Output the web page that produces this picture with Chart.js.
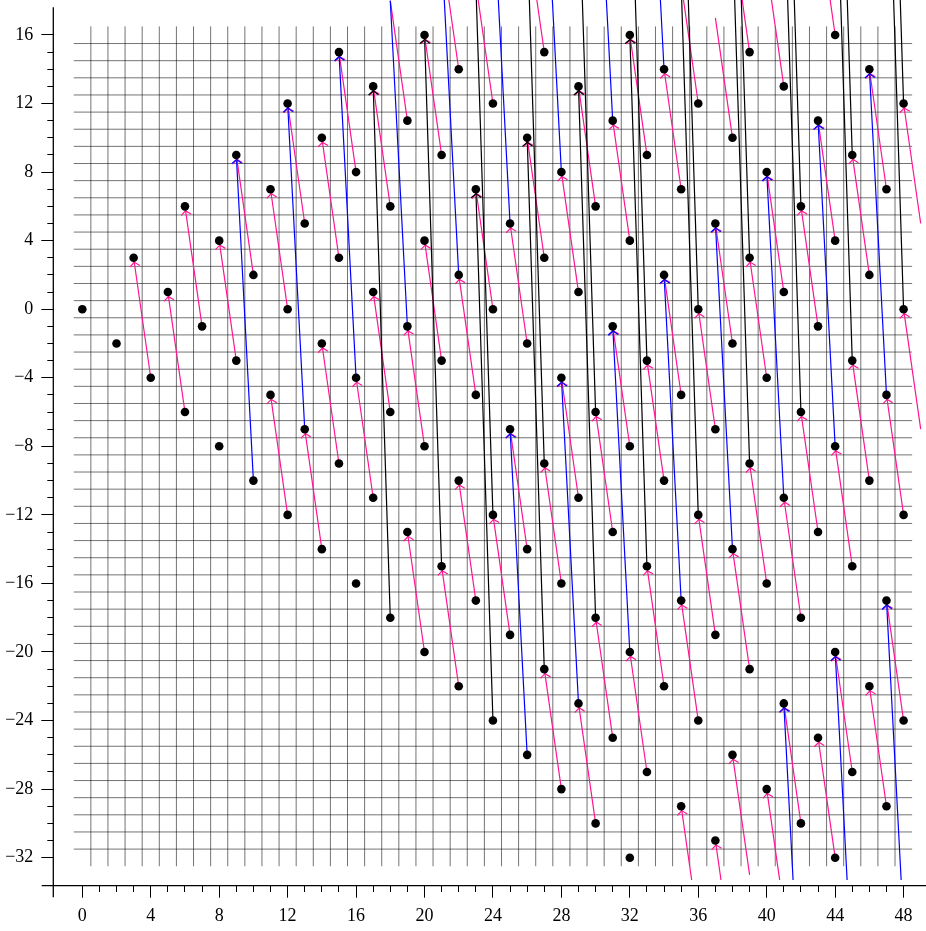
<!DOCTYPE html>
<html>
<head>
<meta charset="utf-8">
<script src="https://cdn.jsdelivr.net/npm/chart.js@4/dist/chart.umd.min.js"></script>
<style>
  html, body { margin: 0; padding: 0; background: #fff; }
  canvas { display: block; }
</style>
</head>
<body>
<canvas id="chart" width="926" height="931"></canvas>
<script>
// tick positions and labels
const xMajorTicks = [0, 4, 8, 12, 16, 20, 24, 28, 32, 36, 40, 44, 48];
const xTickLabels = ['0', '4', '8', '12', '16', '20', '24', '28', '32', '36', '40', '44', '48'];
const yMajorTicks = [16, 12, 8, 4, 0, -4, -8, -12, -16, -20, -24, -28, -32];
const yTickLabels = ['16', '12', '8', '4', '0', '−4', '−8', '−12', '−16', '−20', '−24', '−28', '−32'];

// dots, one column per x value
const dotColumnX = [0, 2, 3, 4, 5, 6, 7, 8, 9, 10, 11, 12, 13, 14, 15, 16, 17, 18, 19, 20, 21, 22, 23, 24,
  25, 26, 27, 28, 29, 30, 31, 32, 33, 34, 35, 36, 37, 38, 39, 40, 41, 42, 43, 44, 45, 46, 47, 48];
const dotColumnY = [
  [0], [-2], [3], [-4], [1], [6, -6], [-1], [4, -8], [9, -3], [2, -10], [7, -5], [12, 0, -12],
  [5, -7], [10, -2, -14], [15, 3, -9], [8, -4, -16], [13, 1, -11], [6, -6, -18], [11, -1, -13],
  [16, 4, -8, -20], [9, -3, -15], [14, 2, -10, -22], [7, -5, -17], [12, 0, -12, -24],
  [5, -7, -19], [10, -2, -14, -26], [15, 3, -9, -21], [8, -4, -16, -28], [13, 1, -11, -23],
  [6, -6, -18, -30], [11, -1, -13, -25], [16, 4, -8, -20, -32], [9, -3, -15, -27],
  [14, 2, -10, -22], [7, -5, -17, -29], [12, 0, -12, -24], [5, -7, -19, -31],
  [10, -2, -14, -26], [15, 3, -9, -21], [8, -4, -16, -28], [13, 1, -11, -23],
  [6, -6, -18, -30], [11, -1, -13, -25], [16, 4, -8, -20, -32], [9, -3, -15, -27],
  [14, 2, -10, -22], [7, -5, -17, -29], [12, 0, -12, -24]
];

// links [x0, y0, x1, y1], drawn from (x0,y0) with the arrow at (x1,y1)
const pinkLinks = [
  [4, -4, 3, 3], [6, -6, 5, 1], [7, -1, 6, 6], [9, -3, 8, 4], [10, 2, 9, 9],
  [12, 0, 11, 7], [12, -12, 11, -5], [13, 5, 12, 12], [14, -14, 13, -7],
  [15, 3, 14, 10], [15, -9, 14, -2], [16, 8, 15, 15], [17, -11, 16, -4],
  [18, 6, 17, 13], [18, -6, 17, 1], [19, 11, 18, 18], [20, -8, 19, -1], [20, -20, 19, -13],
  [21, 9, 20, 16], [21, -3, 20, 4], [22, 14, 21, 21], [22, -22, 21, -15],
  [23, -5, 22, 2], [23, -17, 22, -10], [24, 12, 23, 19], [24, 0, 23, 7],
  [25, -19, 24, -12], [26, -2, 25, 5], [26, -14, 25, -7], [27, 15, 26, 22], [27, 3, 26, 10],
  [28, -16, 27, -9], [28, -28, 27, -21], [29, 1, 28, 8], [29, -11, 28, -4],
  [30, 6, 29, 13], [30, -30, 29, -23], [31, -13, 30, -6], [31, -25, 30, -18],
  [32, 4, 31, 11], [32, -8, 31, -1], [33, 9, 32, 16], [33, -27, 32, -20],
  [34, -10, 33, -3], [34, -22, 33, -15], [35, 7, 34, 14], [35, -5, 34, 2],
  [36, 12, 35, 19], [36, -24, 35, -17], [36, -36, 35, -29], [37, -7, 36, 0], [37, -19, 36, -12],
  [38, 10, 37, 17], [38, -2, 37, 5], [38, -38, 37, -31],
  [39, 15, 38, 22], [39, -21, 38, -14], [39, -33, 38, -26], [40, -4, 39, 3], [40, -16, 39, -9],
  [41, 13, 40, 20], [41, 1, 40, 8], [41, -35, 40, -28], [42, -18, 41, -11], [42, -30, 41, -23],
  [43, -1, 42, 6], [43, -13, 42, -6], [44, 16, 43, 23], [44, 4, 43, 11], [44, -32, 43, -25],
  [45, -15, 44, -8], [45, -27, 44, -20], [46, 2, 45, 9], [46, -10, 45, -3],
  [47, 7, 46, 14], [47, -29, 46, -22], [48, -12, 47, -5], [48, -24, 47, -17],
  [49, 5, 48, 12], [49, -7, 48, 0]
];
const blueLinks = [
  [10, -10, 9, 9], [13, -7, 12, 12], [16, -4, 15, 15], [19, -1, 18, 18], [22, 2, 21, 21],
  [25, 5, 24, 24], [26, -26, 25, -7], [28, 8, 27, 27], [29, -23, 28, -4], [31, 11, 30, 30],
  [32, -20, 31, -1], [34, 14, 33, 33], [35, -17, 34, 2], [38, -14, 37, 5], [41, -11, 40, 8],
  [42, -42, 41, -23], [44, -8, 43, 11], [45, -39, 44, -20], [47, -5, 46, 14], [48, -36, 47, -17]
];
const blackLinks = [
  [18, -18, 17, 13], [21, -15, 20, 16], [24, -12, 23, 19], [24, -24, 23, 7],
  [27, -9, 26, 22], [27, -21, 26, 10], [30, -6, 29, 25], [30, -18, 29, 13],
  [33, -3, 32, 28], [33, -15, 32, 16], [36, 0, 35, 31], [36, -12, 35, 19],
  [39, 3, 38, 34], [39, -9, 38, 22], [42, 6, 41, 37], [42, -6, 41, 25],
  [45, 9, 44, 40], [45, -3, 44, 28], [48, 12, 47, 43], [48, 0, 47, 31]
];

const pinkColor = '#ff1493';
const blueColor = '#0000ff';
const blackColor = '#000000';
const labelFont = { family: "'Liberation Serif', 'Times New Roman', serif", size: 18 };

const dots = [];
dotColumnX.forEach((x, i) => dotColumnY[i].forEach(y => dots.push({x: x, y: y})));

// each link becomes two points and a gap
function linkPoints(links) {
  const pts = [];
  links.forEach(([x0, y0, x1, y1]) => {
    pts.push({x: x0, y: y0}, {x: x1, y: y1}, {x: NaN, y: NaN});
  });
  return pts;
}

const lineClip = {left: false, top: 0, right: 0, bottom: -5.7};

function lineDataset(label, links, color) {
  return {
    label: label,
    data: linkPoints(links),
    showLine: true,
    spanGaps: false,
    borderColor: color,
    borderWidth: 1.2,
    pointRadius: 0,
    pointHoverRadius: 0,
    clip: lineClip,
  };
}

// half step grid between the dots
const gridPlugin = {
  id: 'halfGrid',
  beforeDatasetsDraw(chart) {
    const {ctx, scales: {x, y}} = chart;
    ctx.save();
    ctx.strokeStyle = 'rgba(0, 0, 0, 0.55)';
    ctx.lineWidth = 1;
    ctx.beginPath();
    for (let gx = 0.5; gx <= 47.5; gx += 1) {
      const px = x.getPixelForValue(gx);
      ctx.moveTo(px, y.getPixelForValue(16.5));
      ctx.lineTo(px, y.getPixelForValue(-32.5));
    }
    for (let gy = -31.5; gy <= 15.5; gy += 1) {
      const py = y.getPixelForValue(gy);
      ctx.moveTo(x.getPixelForValue(-0.5), py);
      ctx.lineTo(x.getPixelForValue(48.5), py);
    }
    ctx.stroke();
    ctx.restore();
  }
};

// open arrow heads at the dot each link points to
const arrowPlugin = {
  id: 'arrowHeads',
  afterDatasetDraw(chart, args) {
    if (args.index !== 1) return;
    const {ctx, scales: {x, y}} = chart;
    const groups = [[pinkLinks, pinkColor], [blueLinks, blueColor], [blackLinks, blackColor]];
    ctx.save();
    ctx.lineWidth = 1.2;
    ctx.lineCap = 'round';
    ctx.lineJoin = 'round';
    groups.forEach(([links, color]) => {
      ctx.strokeStyle = color;
      links.forEach(([x0, y0, x1, y1]) => {
        if (y1 > 16 || y1 < -32) return;
        const ax = x.getPixelForValue(x0), ay = y.getPixelForValue(y0);
        const bx = x.getPixelForValue(x1), by = y.getPixelForValue(y1);
        const len = Math.hypot(bx - ax, by - ay);
        const ux = (bx - ax) / len, uy = (by - ay) / len;
        const nx = -uy, ny = ux;
        const tx = bx - ux * 4.4, ty = by - uy * 4.4;
        const back = 3.8, half = 4.6;
        const bxp = tx - ux * back, byp = ty - uy * back;
        ctx.beginPath();
        ctx.moveTo(bxp + nx * half, byp + ny * half);
        ctx.quadraticCurveTo(tx - ux * 1.2 + nx * 1.2, ty - uy * 1.2 + ny * 1.2, tx, ty);
        ctx.quadraticCurveTo(tx - ux * 1.2 - nx * 1.2, ty - uy * 1.2 - ny * 1.2, bxp - nx * half, byp - ny * half);
        ctx.stroke();
      });
    });
    ctx.restore();
  }
};

// axis lines that run a little past each other at the corner
const axisPlugin = {
  id: 'axisLines',
  afterDraw(chart) {
    const {ctx, chartArea} = chart;
    ctx.save();
    ctx.strokeStyle = '#000';
    ctx.lineWidth = 1.3;
    ctx.beginPath();
    ctx.moveTo(chartArea.left - 11.6, chartArea.bottom);
    ctx.lineTo(chart.width, chartArea.bottom);
    ctx.moveTo(chartArea.left, 7.3);
    ctx.lineTo(chartArea.left, chartArea.bottom + 11.6);
    ctx.stroke();
    ctx.restore();
  }
};

function rangeTicks(lo, hi) {
  const t = [];
  for (let v = lo; v <= hi; v++) t.push({value: v});
  return t;
}

function tickDash(majors, reverse) {
  return {
    tickBorderDash: (c) => majors.includes(c.tick.value) ? [] : [6, 6],
    tickBorderDashOffset: (c) => majors.includes(c.tick.value) ? 0 : (reverse ? 6 : 0),
  };
}

new Chart(document.getElementById('chart'), {
  type: 'scatter',
  data: {
    datasets: [
      {
        label: 'nodes',
        data: dots,
        pointRadius: 4.3,
        pointHoverRadius: 4.3,
        pointBackgroundColor: '#000',
        pointBorderWidth: 0,
        clip: false,
      },
      lineDataset('step 31', blackLinks, blackColor),
      lineDataset('step 19', blueLinks, blueColor),
      lineDataset('step 7', pinkLinks, pinkColor),
    ],
  },
  options: {
    responsive: false,
    devicePixelRatio: 1,
    animation: false,
    events: [],
    layout: { padding: 0, autoPadding: false },
    plugins: {
      legend: { display: false },
      tooltip: { enabled: false },
    },
    scales: {
      x: {
        type: 'linear',
        position: 'bottom',
        min: -1.695,
        max: 49.31,
        afterBuildTicks: (scale) => { scale.ticks = rangeTicks(0, 48); },
        afterFit: (scale) => { scale.height = 45.3; scale.paddingLeft = 0; scale.paddingRight = 0; },
        border: { display: false },
        grid: {
          drawOnChartArea: false,
          drawTicks: true,
          tickLength: 12,
          tickColor: '#000',
          tickWidth: 1,
          ...tickDash(xMajorTicks, false),
        },
        ticks: {
          autoSkip: false,
          maxRotation: 0,
          minRotation: 0,
          padding: 8,
          color: '#000',
          font: labelFont,
          callback: (v) => {
            const i = xMajorTicks.indexOf(v);
            return i >= 0 ? xTickLabels[i] : '';
          },
        },
      },
      y: {
        type: 'linear',
        position: 'left',
        min: -33.635,
        max: 18.04,
        afterBuildTicks: (scale) => { scale.ticks = rangeTicks(-32, 16); },
        afterFit: (scale) => { scale.width = 53.3; scale.paddingTop = 0; scale.paddingBottom = 0; },
        border: { display: false },
        grid: {
          drawOnChartArea: false,
          drawTicks: true,
          tickLength: 12,
          tickColor: '#000',
          tickWidth: 1,
          ...tickDash(yMajorTicks, true),
        },
        ticks: {
          autoSkip: false,
          padding: 8,
          color: '#000',
          font: labelFont,
          callback: (v) => {
            const i = yMajorTicks.indexOf(v);
            return i >= 0 ? yTickLabels[i] : '';
          },
        },
      },
    },
  },
  plugins: [gridPlugin, arrowPlugin, axisPlugin],
});
</script>
</body>
</html>
